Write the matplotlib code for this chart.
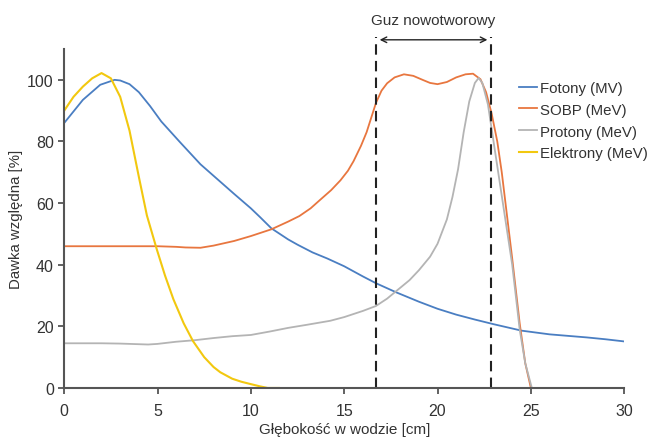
import matplotlib
matplotlib.use("Agg")
import matplotlib.pyplot as plt

plt.rcParams['font.family'] = ['Liberation Sans', 'DejaVu Sans']

# Fotony (MV)
fot_x = [0, 1, 1.93, 2.7, 3.0, 3.5, 4.0, 4.6, 5.2, 6.2, 7.3, 8.2, 9.1, 10, 10.5, 11.1, 12,
         12.5, 13.3, 14.1, 15, 16, 16.7, 17.8, 19, 20, 21, 22, 23, 24, 24.5, 25, 26, 27, 28, 29, 30]
fot_y = [86, 93.5, 98.4, 100, 99.8, 98.6, 96, 91.5, 86.5, 79.8, 72.6, 67.8, 63, 58.3, 55.4, 51.8, 48.2,
         46.5, 44, 42, 39.5, 36.2, 34, 31, 28, 25.7, 23.8, 22.2, 20.7, 19.3, 18.6, 18.2, 17.4, 16.9, 16.4, 15.8, 15.1]

# SOBP (MeV)
sobp_x = [0, 2, 4, 5, 6, 6.5, 7.3, 8, 9.1, 10, 11.1, 12, 12.6, 13.2, 13.7, 14.3, 14.8, 15.2, 15.5,
          15.9, 16.2, 16.7, 17, 17.3, 17.7, 18.2, 18.7, 19.2, 19.6, 20, 20.5, 21, 21.5, 21.9, 22.3,
          22.6, 22.9, 23.2, 23.44, 23.7, 24, 24.4, 24.7, 25]
sobp_y = [46, 46, 46, 46, 45.8, 45.6, 45.5, 46.2, 47.7, 49.3, 51.5, 54, 55.8, 58.3, 61, 64.2, 67.4,
          70.5, 73.6, 78.6, 83, 92.5, 96.5, 98.9, 100.8, 101.8, 101.3, 100, 99, 98.6, 99.3, 100.8,
          101.8, 102, 100.2, 96, 89, 80, 70, 57, 42, 21, 8, 0]

# Protony (MeV)
prot_x = [0, 1, 2, 3, 4, 4.5, 5, 6, 7, 8, 9, 10, 11, 12, 13, 14.25, 15, 16, 16.7, 17.3, 17.8, 18.5,
          19, 19.6, 20, 20.5, 20.8, 21.1, 21.4, 21.7, 22, 22.2, 22.4, 22.7, 23, 23.5, 24, 24.4, 24.7, 25.05]
prot_y = [14.5, 14.5, 14.5, 14.4, 14.2, 14.1, 14.3, 15, 15.5, 16.2, 16.8, 17.2, 18.3, 19.5, 20.5, 21.8,
          23, 25, 26.6, 29, 31.5, 35, 38.2, 42.6, 46.8, 54.7, 62, 71, 83, 93, 99, 100.6, 99, 92, 80, 60, 40,
          19, 8, 0]

# Elektrony (MeV)
elek_x = [0, 0.5, 1, 1.5, 2, 2.5, 3.0, 3.5, 4, 4.43, 4.96, 5.4, 5.85, 6.4, 6.9, 7.5, 8, 8.36, 9,
          9.5, 9.96, 10.5, 10.9, 11.5]
elek_y = [90, 94.5, 97.8, 100.5, 102.2, 100.5, 94.5, 83.5, 68.5, 56, 45, 36.5, 28.8, 21, 15.2, 10,
          6.8, 5.1, 3, 2, 1.3, 0.5, 0, 0]

tumor = [16.7, 22.87]

fig = plt.figure(figsize=(6.55, 4.39), dpi=100)
ax = fig.add_axes([0.098, 0.114, 0.855, 0.772])

ax.plot(fot_x, fot_y, color='#4A7EC2', lw=1.3, label='Fotony (MV)')
ax.plot(sobp_x, sobp_y, color='#E8763F', lw=1.3, label='SOBP (MeV)')
ax.plot(prot_x, prot_y, color='#B4B4B4', lw=1.3, label='Protony (MeV)')
ax.plot(elek_x, elek_y, color='#F2C80F', lw=1.5, label='Elektrony (MeV)')

for xv in tumor:
    ax.plot([xv, xv], [0, 114], color='#222222', lw=1.5, ls=(0, (5, 3)), clip_on=False)
ax.annotate('', xy=(tumor[1] - 0.05, 113), xytext=(tumor[0] + 0.05, 113),
            arrowprops=dict(arrowstyle='<->', color='#222222', lw=1.0), annotation_clip=False)
ax.text(sum(tumor) / 2, 119.5, 'Guz nowotworowy', ha='center', va='center', fontsize=11,
        color='#333333', clip_on=False)

ax.set_xlim(0, 30)
ax.set_ylim(0, 110)
ax.set_xticks([0, 5, 10, 15, 20, 25, 30])
ax.set_yticks([0, 20, 40, 60, 80, 100])
ax.spines['top'].set_visible(False)
ax.spines['right'].set_visible(False)
for s in ('left', 'bottom'):
    ax.spines[s].set_color('#555555')
    ax.spines[s].set_linewidth(1.5)
ax.tick_params(colors='#555555', labelcolor='#333333', labelsize=11.5, length=4, width=1.3)
ax.tick_params(axis='x', pad=7)
ax.set_xlabel('Głębokość w wodzie [cm]', fontsize=11, color='#333333', labelpad=3)
ax.set_ylabel('Dawka względna [%]', fontsize=10.8, color='#333333', labelpad=3)

leg = ax.legend(loc='upper left', bbox_to_anchor=(0.783, 0.827), bbox_transform=fig.transFigure,
                frameon=False, fontsize=10.8, handlelength=1.2, handletextpad=0.2,
                labelspacing=0.52, borderaxespad=0)
for t in leg.get_texts():
    t.set_color('#333333')

fig.savefig('out.png', dpi=100)
